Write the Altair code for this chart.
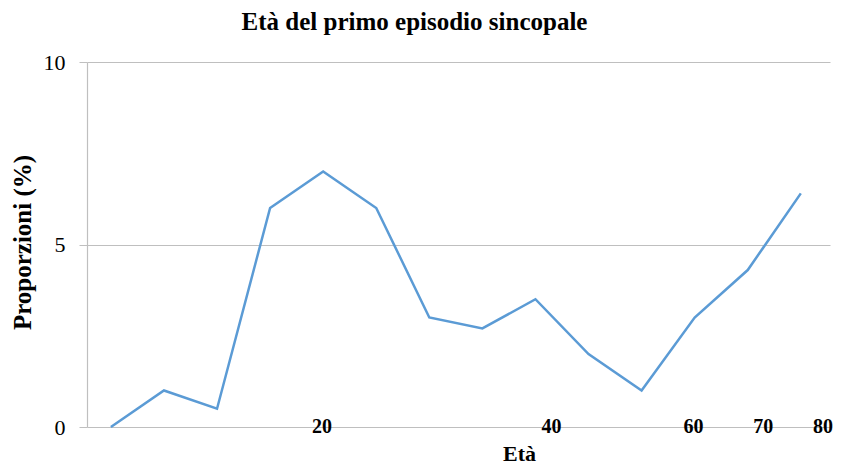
import altair as alt
import pandas as pd

# Data
category_index = list(range(14))
proportions = [0.0, 1.0, 0.5, 6.0, 7.0, 6.0, 3.0, 2.7, 3.5, 2.0, 1.0, 3.0, 4.3, 6.4]
x_labels = ["20", "40", "60", "70", "80"]
x_label_pos = [4.43, 8.75, 11.43, 12.74, 13.87]
y_ticks = [0, 5, 10]

line_df = pd.DataFrame({"pos": [i + 0.45 for i in category_index], "val": proportions})
lab_df = pd.DataFrame({"pos": x_label_pos, "label": x_labels})

SERIF = "Liberation Serif"
GRAY = "#bfbfbf"

x_scale = alt.Scale(domain=[0, 14], nice=False, zero=False)

line = alt.Chart(line_df).mark_line(color="#5B9BD5", strokeWidth=2.5).encode(
    x=alt.X("pos:Q", scale=x_scale,
            axis=alt.Axis(title="Età", labels=False, ticks=False, domain=False, grid=False,
                          titleFont=SERIF, titleFontSize=22, titleFontWeight="bold",
                          titleColor="black", titleX=432, titleY=26,
                          titleBaseline="middle", titleAlign="center")),
    y=alt.Y("val:Q", scale=alt.Scale(domain=[0, 10], nice=False),
            axis=alt.Axis(values=y_ticks, grid=True, gridColor=GRAY, gridWidth=1.2,
                          domainColor=GRAY, domainWidth=1.2, tickColor=GRAY, tickSize=8,
                          labelFont=SERIF, labelFontSize=22, labelColor="black",
                          labelPadding=14,
                          title="Proporzioni (%)", titleFont=SERIF, titleFontSize=25,
                          titleFontWeight="bold", titleColor="black", titleAngle=-90,
                          titleX=-65, titleY=180, titleBaseline="middle",
                          titleAlign="center")),
)

labels = alt.Chart(lab_df).mark_text(font=SERIF, fontSize=20, fontWeight="bold",
                                     baseline="middle", align="center", color="black").encode(
    x=alt.X("pos:Q", scale=x_scale),
    y=alt.value(365),
    text="label:N",
)

chart = alt.layer(line, labels).properties(
    width=743, height=365,
    autosize=alt.AutoSizeParams(type="none"),
    padding={"left": 79, "top": 54, "right": 10, "bottom": 38},
    title=alt.TitleParams("Età del primo episodio sincopale", font=SERIF, fontSize=25,
                          fontWeight="bold", color="black", anchor="middle", dx=-44,
                          offset=16),
).configure_view(stroke=None)

chart.save("out.html", embed_options={"renderer": "svg", "actions": False})
